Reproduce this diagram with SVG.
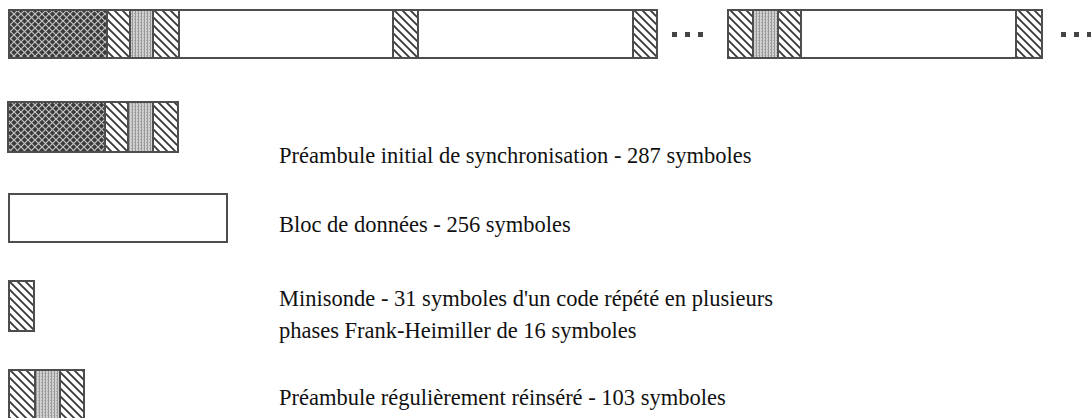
<svg xmlns="http://www.w3.org/2000/svg" width="1091" height="418" viewBox="0 0 1091 418">
  <defs>
    <!-- dark lattice used for the initial synchronisation segment -->
    <pattern id="lattice" width="7" height="7" patternUnits="userSpaceOnUse">
      <rect width="7" height="7" fill="#3a3a3a"/>
      <path d="M-1,-1 L8,8 M-1,8 L8,-1" stroke="#c4c4c4" stroke-width="1.2"/>
    </pattern>
    <!-- backslash hatching for minisonde segments -->
    <pattern id="hatch" width="8" height="8" patternUnits="userSpaceOnUse">
      <rect width="8" height="8" fill="#fff"/>
      <path d="M-2,-2 L10,10 M-2,6 L2,10 M6,-2 L10,2" stroke="#3a3a3a" stroke-width="1.9"/>
    </pattern>
    <!-- fine stipple for the core preamble segment -->
    <pattern id="stipple" width="3" height="3" patternUnits="userSpaceOnUse">
      <rect width="3" height="3" fill="#d0d0d0"/>
      <rect x="0" y="0" width="1" height="3" fill="#999"/>
      <rect x="2" y="1" width="1" height="1" fill="#aaa"/>
    </pattern>
  </defs>
  <style>
    .frame { fill: none; stroke: #4d4d4d; stroke-width: 2; }
    .white { fill: #fff; }
    .lat { fill: url(#lattice); }
    .hat { fill: url(#hatch); }
    .stp { fill: url(#stipple); }
    .sep { stroke: #4d4d4d; stroke-width: 2; }
    .dot { fill: #444; }
    .label { font-family: "Liberation Serif", "Times New Roman", serif; font-size: 22.5px; fill: #111; }
  </style>

  <rect width="1091" height="418" fill="#fff"/>

  <!-- frame sequence, first part -->
  <g id="frame-first">
    <rect class="lat" x="9" y="10" width="98" height="48"/>
    <rect class="hat" x="107" y="10" width="23" height="48"/>
    <rect class="stp" x="130" y="10" width="23" height="48"/>
    <rect class="hat" x="153" y="10" width="26" height="48"/>
    <rect class="white" x="179" y="10" width="214" height="48"/>
    <rect class="hat" x="393" y="10" width="25" height="48"/>
    <rect class="white" x="418" y="10" width="215" height="48"/>
    <rect class="hat" x="633" y="10" width="24" height="48"/>
    <line class="sep" x1="107" y1="10" x2="107" y2="58"/>
    <line class="sep" x1="130" y1="10" x2="130" y2="58"/>
    <line class="sep" x1="153" y1="10" x2="153" y2="58"/>
    <line class="sep" x1="179" y1="10" x2="179" y2="58"/>
    <line class="sep" x1="393" y1="10" x2="393" y2="58"/>
    <line class="sep" x1="418" y1="10" x2="418" y2="58"/>
    <line class="sep" x1="633" y1="10" x2="633" y2="58"/>
    <rect class="frame" x="9" y="10" width="648" height="48"/>
  </g>

  <g id="ellipsis-1">
    <rect class="dot" x="672" y="32" width="5" height="5"/>
    <rect class="dot" x="685" y="32" width="5" height="5"/>
    <rect class="dot" x="698" y="32" width="5" height="5"/>
  </g>

  <!-- frame sequence, repeated part -->
  <g id="frame-repeat">
    <rect class="hat" x="728" y="10" width="25" height="48"/>
    <rect class="stp" x="753" y="10" width="25" height="48"/>
    <rect class="hat" x="778" y="10" width="23" height="48"/>
    <rect class="white" x="801" y="10" width="215" height="48"/>
    <rect class="hat" x="1016" y="10" width="26" height="48"/>
    <line class="sep" x1="753" y1="10" x2="753" y2="58"/>
    <line class="sep" x1="778" y1="10" x2="778" y2="58"/>
    <line class="sep" x1="801" y1="10" x2="801" y2="58"/>
    <line class="sep" x1="1016" y1="10" x2="1016" y2="58"/>
    <rect class="frame" x="728" y="10" width="314" height="48"/>
  </g>

  <g id="ellipsis-2">
    <rect class="dot" x="1061" y="32" width="5" height="5"/>
    <rect class="dot" x="1074" y="32" width="5" height="5"/>
    <rect class="dot" x="1087" y="32" width="5" height="5"/>
  </g>

  <!-- legend -->
  <g id="legend-initial-preamble">
    <rect class="lat" x="8" y="102" width="97" height="50"/>
    <rect class="hat" x="105" y="102" width="23" height="50"/>
    <rect class="stp" x="128" y="102" width="25" height="50"/>
    <rect class="hat" x="153" y="102" width="25" height="50"/>
    <line class="sep" x1="105" y1="102" x2="105" y2="152"/>
    <line class="sep" x1="128" y1="102" x2="128" y2="152"/>
    <line class="sep" x1="153" y1="102" x2="153" y2="152"/>
    <rect class="frame" x="8" y="102" width="170" height="50"/>
    <text class="label" x="279" y="163">Préambule initial de synchronisation - 287 symboles</text>
  </g>

  <g id="legend-data-block">
    <rect class="frame" x="9" y="194" width="218" height="48"/>
    <text class="label" x="279" y="232">Bloc de données - 256 symboles</text>
  </g>

  <g id="legend-minisonde">
    <rect class="hat" x="9" y="281" width="25" height="50"/>
    <rect class="frame" x="9" y="281" width="25" height="50"/>
    <text class="label" x="279" y="306">Minisonde - 31 symboles d'un code répété en plusieurs</text>
    <text class="label" x="279" y="338">phases Frank-Heimiller de 16 symboles</text>
  </g>

  <g id="legend-reinserted-preamble">
    <rect class="hat" x="9" y="370" width="26" height="52"/>
    <rect class="stp" x="35" y="370" width="25" height="52"/>
    <rect class="hat" x="60" y="370" width="24" height="52"/>
    <line class="sep" x1="35" y1="370" x2="35" y2="422"/>
    <line class="sep" x1="60" y1="370" x2="60" y2="422"/>
    <rect class="frame" x="9" y="370" width="75" height="52"/>
    <text class="label" x="279" y="405">Préambule régulièrement réinséré - 103 symboles</text>
  </g>
</svg>
